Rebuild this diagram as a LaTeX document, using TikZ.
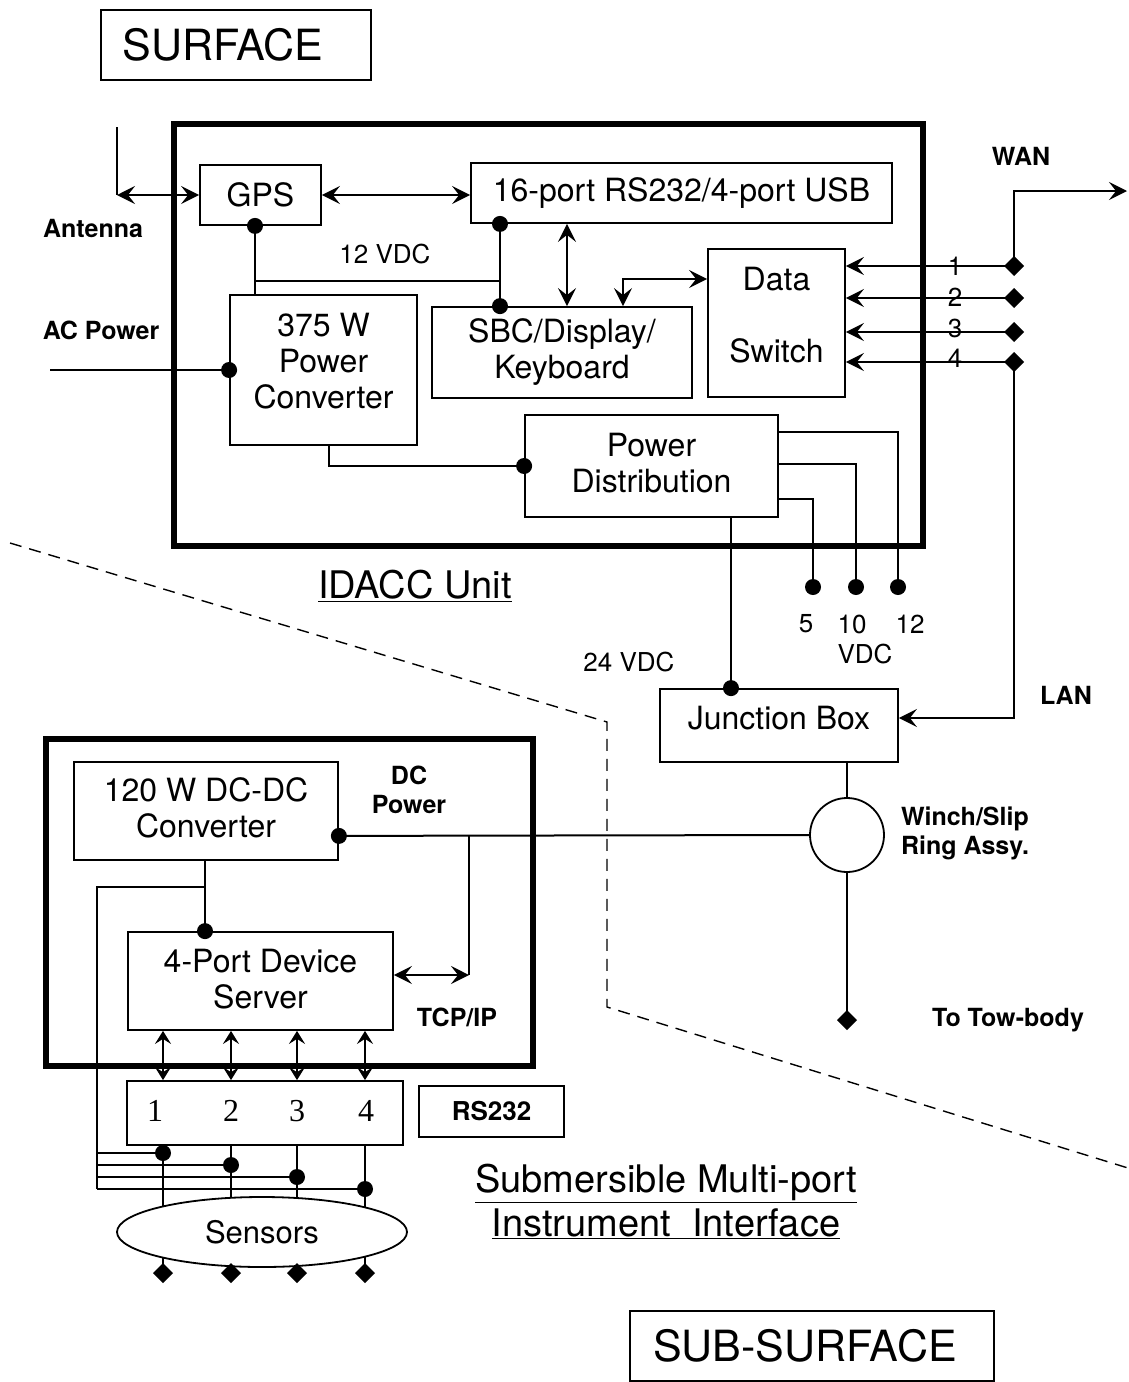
\documentclass[tikz,border=0pt]{standalone}
\usepackage{fontspec}
\setmainfont{TeX Gyre Heros}
\newfontfamily\serifnum{Liberation Serif}
\usetikzlibrary{arrows.meta,calc,shapes.geometric}
\begin{document}
\begin{tikzpicture}[x=1pt,y=-1pt,line width=2pt,
  box/.style={draw,line width=1.8pt,inner sep=0pt,align=center,font=\fontsize{32}{36}\selectfont},
  boxtxt/.style={inner sep=0pt,align=center,font=\fontsize{32}{36}\selectfont},
  heavybox/.style={draw,line width=6pt,inner sep=0pt},
  lblb/.style={inner sep=0pt,align=left,font=\bfseries\fontsize{25}{29}\selectfont},
  lblr/.style={inner sep=0pt,align=center,font=\fontsize{26}{30}\selectfont},
  bigt/.style={inner sep=0pt,align=center,font=\fontsize{38}{42}\selectfont},
  arr/.style={-{Stealth[length=18pt,width=18pt,inset=7pt]}},
  darr/.style={{Stealth[length=18pt,width=18pt,inset=7pt]}-{Stealth[length=18pt,width=18pt,inset=7pt]}},
  smdarr/.style={{Stealth[length=13pt,width=16pt,inset=5pt]}-{Stealth[length=13pt,width=16pt,inset=5pt]}},
  dmd/.pic={\fill (-10pt,0pt)--(0pt,10pt)--(10pt,0pt)--(0pt,-10pt)--cycle;},
  dashln/.style={line width=1.4pt,dash pattern=on 12pt off 8pt}
]
\useasboundingbox (0,0) rectangle (1128,1382);

% ---------- boxes ----------
\node[box,minimum width=270pt,minimum height=70pt,font=\fontsize{43}{48}\selectfont] (surf) at (236,45) {SURFACE\hspace*{26pt}};
\node[heavybox,minimum width=749pt,minimum height=422pt] (idacc) at (548.5,335) {};
\node[box,minimum width=121pt,minimum height=60pt] (gps) at (260.5,195) {GPS};
\node[box,minimum width=421pt,minimum height=60pt] (usb) at (681.5,193) {16-port RS232/4-port USB};
\node[box,minimum width=187pt,minimum height=150pt] (conv) at (323.5,370) {};
\node[boxtxt] (convt) at ($(conv.center)+(0,-9)$) {375 W\\Power\\Converter};
\node[box,minimum width=260pt,minimum height=91pt] (sbc) at (562,352.5) {SBC/Display/\\Keyboard};
\node[box,minimum width=137pt,minimum height=148pt] (sw) at (776.5,323) {};
\node[boxtxt] (swt) at ($(sw.center)+(0,-8)$) {Data\\[36pt]Switch};
\node[box,minimum width=253pt,minimum height=102pt] (pd) at (651.5,466) {};
\node[boxtxt] (pdt) at ($(pd.center)+(0,-3)$) {Power\\Distribution};
\node[box,minimum width=238pt,minimum height=73pt] (jb) at (779,725.5) {};
\node[boxtxt] (jbt) at ($(jb.center)+(0,-7)$) {Junction Box};
\node[draw,circle,line width=1.8pt,minimum size=74pt,inner sep=0pt] (ring) at (847,835) {};
\node[heavybox,minimum width=487pt,minimum height=327pt] (sub) at (289.5,902.5) {};
\node[box,minimum width=264pt,minimum height=98pt] (dcdc) at (206,811) {};
\node[boxtxt] (dcdct) at ($(dcdc.center)+(0,-3)$) {120 W DC-DC\\Converter};
\node[box,minimum width=265pt,minimum height=98pt] (ds) at (260.5,981) {};
\node[boxtxt] (dst) at ($(ds.center)+(0,-2)$) {4-Port Device\\Server};
\node[box,minimum width=276pt,minimum height=64pt] (rsb) at (265,1113) {};
\node[box,minimum width=145pt,minimum height=51pt,font=\bfseries\fontsize{26}{30}\selectfont] (rsl) at (491.5,1111.5) {RS232};
\node[box,minimum width=364pt,minimum height=70pt,font=\fontsize{43}{48}\selectfont] (subsurf) at (812,1346) {SUB-SURFACE\hspace*{14pt}};

% numbers in RS232 port box
\foreach \i/\xx in {1/155,2/231,3/297,4/366}
  \node[inner sep=0pt,font=\serifnum\fontsize{32}{36}\selectfont] (n\i) at (\xx,1111) {\i};

% ---------- surface connectors ----------
\coordinate (anttop) at (117,127);
\coordinate (antc) at (117,195);
\draw (anttop) -- (antc);
\draw[darr] (antc) -- (gps.west);
\draw[darr] (gps.east) -- (gps.east -| usb.west);

\coordinate (gp) at (255,225);
\coordinate (bus12) at (500,281);
\draw (gps.south -| gp) -- (conv.north -| gp);
\fill (gps.south -| gp) circle (8pt);
\draw (gp |- bus12) -- (bus12);
\draw (usb.south -| bus12) -- (sbc.north -| bus12);
\fill (usb.south -| bus12) circle (8pt);
\fill (sbc.north -| bus12) circle (8pt);

\coordinate (us) at (567,250);
\draw[darr] (usb.south -| us) -- (sbc.north -| us);
\coordinate (ss) at (623,279);
\draw[darr] (sbc.north -| ss) -- (ss) -- (ss -| sw.west);

\coordinate (acin) at (50,370);
\draw (acin) -- (acin -| conv.west);
\fill (acin -| conv.west) circle (8pt);

\coordinate (cp) at (329,466);
\draw (conv.south -| cp) -- (cp) -- (cp -| pd.west);
\fill (cp -| pd.west) circle (8pt);

\coordinate (o12) at (898,587);
\coordinate (o10) at (856,587);
\coordinate (o5) at (813,587);
\draw ($(pd.north east)+(0,18)$) -| (o12);
\draw ($(pd.east)+(0,-2)$) -| (o10);
\draw ($(pd.south east)+(0,-19)$) -| (o5);
\fill (o12) circle (8pt);
\fill (o10) circle (8pt);
\fill (o5) circle (8pt);

\coordinate (v24) at (731,600);
\draw (pd.south -| v24) -- (jb.north -| v24);
\fill (jb.north -| v24) circle (8pt);

\foreach \i/\yy/\ly in {1/266/266,2/298/297,3/332/328,4/362/358}{
  \coordinate (p\i) at (1014,\yy);
  \draw[arr] (p\i) -- (p\i -| sw.east);
  \pic at (p\i) {dmd};
  \node[lblr] (pl\i) at (955,\ly) {\i};
}
\coordinate (wanc) at (1014,191);
\coordinate (wanend) at (1127,191);
\draw[arr] (p1) -- (wanc) -- (wanend);
\coordinate (lanc) at (1014,718);
\draw[arr] (p4) -- (lanc) -- (lanc -| jb.east);

\draw (jb.south -| ring.center) -- (ring.north);
\coordinate (tow) at (847,1020);
\draw (ring.south) -- (tow);
\pic at (tow) {dmd};

% ---------- sub-surface connectors ----------
\coordinate (dcpt) at ($(dcdc.south east)+(0,-25)$);
\draw (dcpt) -- (ring.west);
\fill (dcpt) circle (8pt);
\coordinate (tcpc) at (469,975);
\draw (dcpt -| tcpc) -- (tcpc);
\draw[darr] (tcpc -| ds.east) -- (tcpc);

\coordinate (dd) at (205,887);
\draw (dcdc.south -| dd) -- (ds.north -| dd);
\fill (ds.north -| dd) circle (8pt);
\coordinate (busl) at (97,887);
\coordinate (busb) at (97,1189);
\draw (dd) -- (busl) -- (busb);

\foreach \i/\xx/\yy in {1/163/1153,2/231/1165,3/297/1177,4/365/1189}{
  \coordinate (s\i) at (\xx,1273);
  \coordinate (b\i) at (\xx,\yy);
  \draw[smdarr] (ds.south -| s\i) -- (rsb.north -| s\i);
  \draw (rsb.south -| s\i) -- (s\i);
  \draw (busl |- b\i) -- (b\i);
  \fill (b\i) circle (8pt);
}
\node[draw,ellipse,fill=white,line width=1.8pt,minimum width=290pt,minimum height=70pt,inner sep=0pt,font=\fontsize{31}{36}\selectfont] (sens) at (262,1232) {Sensors};
\foreach \i in {1,...,4} \pic at (s\i) {dmd};

% dashed boundary
\coordinate (dl1) at (10,543);
\coordinate (dl2) at (607,722);
\coordinate (dl3) at (607,1007);
\coordinate (dl4) at (1128,1168);
\draw[dashln] (dl1) -- (dl2) -- (dl3) -- (dl4);

% ---------- labels ----------
\node[lblb] (tant) at (93,228) {Antenna};
\node[lblb] (tac) at (101,330) {AC Power};
\node[lblr] (t12) at (385,254) {12 VDC};
\node[lblb] (twan) at (1021,156) {WAN};
\node[bigt] (tidacc) at (415,586) {\underline{IDACC Unit}};
\node[lblr] (t5) at (806,624) {5};
\node[lblr] (t10) at (852,624) {10};
\node[lblr] (t12b) at (910,624) {12};
\node[lblr] (tvdc) at (865,654) {VDC};
\node[lblr] (t24) at (629,662) {24 VDC};
\node[lblb] (tlan) at (1066,695) {LAN};
\node[lblb,align=center] (tdc) at (409,790) {DC\\Power};
\node[lblb,anchor=west] (twinch) at (900,833) {Winch/Slip\\Ring Assy.};
\node[lblb] (ttow) at (1008,1020) {To Tow-body};
\node[lblb] (ttcp) at (457,1017) {TCP/IP};
\node[bigt] (tsmb) at (666,1183) {\underline{Submersible Multi-port}};
\node[bigt] (tinst) at (666,1224) {\underline{Instrument\ \ Interface}};
\end{tikzpicture}
\end{document}
